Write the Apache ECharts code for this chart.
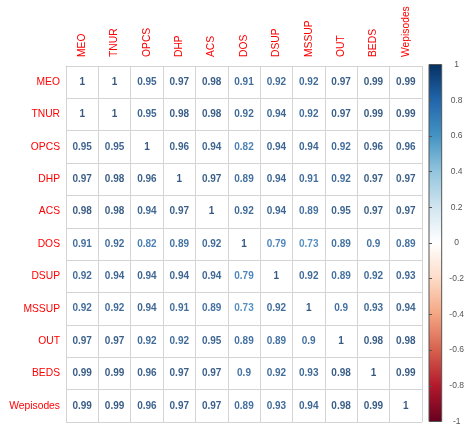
<!DOCTYPE html>
<html>
<head>
<meta charset="utf-8">
<script src="https://cdn.jsdelivr.net/npm/echarts@6/dist/echarts.min.js"></script>
<style>
  html, body { margin: 0; padding: 0; background: #fff; }
  #chart { width: 467px; height: 426px; }
</style>
</head>
<body>
<div id="chart"></div>
<script>
// Variable names, in matrix order
const variables = ['MEO', 'TNUR', 'OPCS', 'DHP', 'ACS', 'DOS', 'DSUP', 'MSSUP', 'OUT', 'BEDS', 'Wepisodes'];

// Correlation rows
const MEO       = [1, 1, 0.95, 0.97, 0.98, 0.91, 0.92, 0.92, 0.97, 0.99, 0.99];
const TNUR      = [1, 1, 0.95, 0.98, 0.98, 0.92, 0.94, 0.92, 0.97, 0.99, 0.99];
const OPCS      = [0.95, 0.95, 1, 0.96, 0.94, 0.82, 0.94, 0.94, 0.92, 0.96, 0.96];
const DHP       = [0.97, 0.98, 0.96, 1, 0.97, 0.89, 0.94, 0.91, 0.92, 0.97, 0.97];
const ACS       = [0.98, 0.98, 0.94, 0.97, 1, 0.92, 0.94, 0.89, 0.95, 0.97, 0.97];
const DOS       = [0.91, 0.92, 0.82, 0.89, 0.92, 1, 0.79, 0.73, 0.89, 0.9, 0.89];
const DSUP      = [0.92, 0.94, 0.94, 0.94, 0.94, 0.79, 1, 0.92, 0.89, 0.92, 0.93];
const MSSUP     = [0.92, 0.92, 0.94, 0.91, 0.89, 0.73, 0.92, 1, 0.9, 0.93, 0.94];
const OUT       = [0.97, 0.97, 0.92, 0.92, 0.95, 0.89, 0.89, 0.9, 1, 0.98, 0.98];
const BEDS      = [0.99, 0.99, 0.96, 0.97, 0.97, 0.9, 0.92, 0.93, 0.98, 1, 0.99];
const Wepisodes = [0.99, 0.99, 0.96, 0.97, 0.97, 0.89, 0.93, 0.94, 0.98, 0.99, 1];

const rows = [MEO, TNUR, OPCS, DHP, ACS, DOS, DSUP, MSSUP, OUT, BEDS, Wepisodes];

// Colour-bar tick range
const legendMin = -1;
const legendMax = 1;
const legendStep = 0.2;

// Diverging red-white-blue palette, from -1 to 1
const palette = ['#67001F', '#B2182B', '#D6604D', '#F4A582', '#FDDBC7', '#FFFFFF',
                 '#D1E5F0', '#92C5DE', '#4393C3', '#2166AC', '#053061'];

function hexToRgb(h) {
  return [parseInt(h.slice(1, 3), 16), parseInt(h.slice(3, 5), 16), parseInt(h.slice(5, 7), 16)];
}
function colorFor(v) {
  const t = (v - legendMin) / (legendMax - legendMin) * (palette.length - 1);
  const i = Math.min(Math.floor(t), palette.length - 2);
  const f = t - i;
  const a = hexToRgb(palette[i]), b = hexToRgb(palette[i + 1]);
  const c = a.map((x, k) => Math.round(x + (b[k] - x) * f));
  return 'rgb(' + c.join(',') + ')';
}

const cells = [];
rows.forEach((row, r) => {
  row.forEach((v, c) => {
    cells.push({ value: [c, r, v], label: { color: colorFor(v) } });
  });
});

const font = '"Liberation Sans", Arial, sans-serif';
const gridColor = '#d4d4d4';

const chart = echarts.init(document.getElementById('chart'), null, { renderer: 'canvas' });
chart.setOption({
  animation: false,
  backgroundColor: '#ffffff',
  grid: [
    { left: 66, top: 66, width: 356, height: 356, containLabel: false },
    {
      left: 429, top: 64.5, width: 13, height: 360, show: true,
      borderColor: '#555555', borderWidth: 1,
      backgroundColor: {
        type: 'linear', x: 0, y: 1, x2: 0, y2: 0,
        colorStops: palette.map((c, i) => ({ offset: i / (palette.length - 1), color: c }))
      }
    }
  ],
  xAxis: [
    {
      type: 'category', gridIndex: 0, data: variables, position: 'top',
      axisLine: { show: true, lineStyle: { color: gridColor } },
      axisTick: { show: false },
      splitLine: { show: true, interval: 0, lineStyle: { color: gridColor, width: 1 } },
      axisLabel: { interval: 0, rotate: -90, margin: 9, color: '#ff0000', fontFamily: font, fontSize: 10.3 }
    },
    { type: 'value', gridIndex: 1, show: false, min: 0, max: 1 }
  ],
  yAxis: [
    {
      type: 'category', gridIndex: 0, data: variables, inverse: true,
      axisLine: { show: true, lineStyle: { color: gridColor } },
      axisTick: { show: false },
      splitLine: { show: true, interval: 0, lineStyle: { color: gridColor, width: 1 } },
      axisLabel: { interval: 0, margin: 6, color: '#ff0000', fontFamily: font, fontSize: 10.3 }
    },
    {
      type: 'value', gridIndex: 1, position: 'right',
      min: legendMin, max: legendMax, interval: legendStep,
      axisLine: { show: false },
      axisTick: { show: true, length: 3, lineStyle: { color: '#555555' } },
      splitLine: { show: false },
      axisLabel: {
        margin: 15, align: 'center', color: '#555555', fontFamily: font, fontSize: 8.5,
        formatter: v => String(Math.round(v * 10) / 10)
      }
    }
  ],
  series: [
    {
      type: 'scatter', xAxisIndex: 0, yAxisIndex: 0,
      symbolSize: 1,
      itemStyle: { color: 'rgba(0,0,0,0)' },
      silent: true,
      label: {
        show: true, position: 'inside', fontFamily: font, fontSize: 10, fontWeight: 'bold',
        formatter: p => String(p.value[2])
      },
      data: cells
    }
  ]
});
</script>
</body>
</html>
